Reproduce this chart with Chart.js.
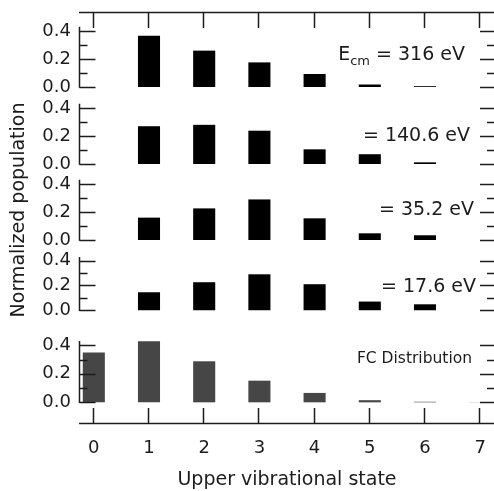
<!DOCTYPE html>
<html>
<head>
<meta charset="utf-8">
<script src="https://cdn.jsdelivr.net/npm/chart.js@4.4.1/dist/chart.umd.min.js"></script>
<style>
  html, body { margin: 0; padding: 0; background: #fff; }
  canvas { display: block; }
</style>
</head>
<body>
<canvas id="chart" width="494" height="491"></canvas>
<script>
// Upper vibrational states on the x axis
const states = [0, 1, 2, 3, 4, 5, 6, 7];
// Normalized population for each collision energy (null = no bar)
const pop316 = [null, 0.366, 0.26, 0.176, 0.093, 0.018, 0.006, null];
const pop140 = [null, 0.27, 0.28, 0.238, 0.105, 0.07, 0.012, null];
const pop35 = [null, 0.16, 0.226, 0.29, 0.155, 0.048, 0.034, null];
const pop17 = [null, 0.145, 0.226, 0.29, 0.21, 0.07, 0.048, null];
const popFC = [0.35, 0.428, 0.288, 0.152, 0.066, 0.015, 0.004, 0.001];
const panelNames = ["= 316 eV", "= 140.6 eV", "= 35.2 eV", "= 17.6 eV", "FC Distribution"];
const yLabelTicks = [0, 0.2, 0.4];
const yMinorTicks = [0.1, 0.3];

const FONT = "'DejaVu Sans', sans-serif";
const INK = "#1c1c1c";

// panel layout, top to bottom (axis range and share of the plot height)
const series = [pop316, pop140, pop35, pop17, popFC];
const panelIds = ["y1", "y2", "y3", "y4", "y5"];
const panelRange = [[-0.057, 0.536], [-0.057, 0.493], [-0.057, 0.486], [-0.119, 0.502], [-0.152, 0.5425]];
const panelWeight = [83, 77, 76, 77, 99];
const barColors = ["#000", "#000", "#000", "#000", "#464646"];
// where each panel label sits: value on the panel axis, distance from right edge
const labelSpots = [
    {value: 0.193, inset: 29, size: 19},
    {value: 0.164, inset: 24, size: 19},
    {value: 0.18, inset: 20, size: 19},
    {value: 0.148, inset: 18, size: 19},
    {value: 0.276, inset: 22, size: 15.5}
];

const datasets = series.map((vals, i) => ({
    data: states.map((s, j) => ({x: s, y: vals[j]})),
    yAxisID: panelIds[i],
    backgroundColor: barColors[i],
    borderWidth: 0,
    grouped: false,
    barPercentage: 0.4,
    categoryPercentage: 1.0
}));

// keep tick labels from pushing the plot area inwards
function noEdgePadding(s) {
    s.paddingTop = 0;
    s.paddingBottom = 0;
    s.paddingLeft = 0;
    s.paddingRight = 0;
}

const scales = {
    x: {
        type: "linear",
        position: "bottom",
        offset: false,
        min: -0.25,
        max: 7.25,
        grid: {display: false, drawTicks: false},
        border: {display: false},
        afterBuildTicks: s => { s.ticks = states.map(v => ({value: v})); },
        ticks: {font: {family: FONT, size: 18}, color: INK, padding: 14, autoSkip: false},
        title: {display: true, text: "Upper vibrational state", color: INK,
            font: {family: FONT, size: 19}, padding: {top: 0, bottom: 0}},
        afterFit: s => { s.height = 67; noEdgePadding(s); }
    }
};
// defined bottom-up so the first panel ends up on top of the stack
for (let i = panelIds.length - 1; i >= 0; i--) {
    scales[panelIds[i]] = {
        type: "linear",
        position: "left",
        stack: "pop",
        stackWeight: panelWeight[i],
        min: panelRange[i][0],
        max: panelRange[i][1],
        grid: {display: false, drawTicks: false},
        border: {display: false},
        afterBuildTicks: s => { s.ticks = yLabelTicks.map(v => ({value: v})); },
        ticks: {font: {family: FONT, size: 18}, color: INK, padding: 9, autoSkip: false,
            callback: v => v.toFixed(1)},
        title: {display: i === 2, text: "Normalized population", color: INK,
            font: {family: FONT, size: 19}, padding: {top: 8, bottom: 0}},
        afterFit: s => { s.width = 80; noEdgePadding(s); }
    };
}

// axis lines and inward ticks, plus the panel labels
const framePlugin = {
    id: "frame",
    afterDatasetsDraw(chart) {
        const {ctx, chartArea: a, scales: sc} = chart;
        ctx.save();
        ctx.strokeStyle = INK;
        ctx.lineWidth = 1.5;
        ctx.beginPath();
        ctx.moveTo(a.left - 1, a.top + 0.5);
        ctx.lineTo(a.right, a.top + 0.5);
        ctx.moveTo(a.left - 1, a.bottom - 0.5);
        ctx.lineTo(a.right, a.bottom - 0.5);
        states.forEach(s => {
            const px = Math.round(sc.x.getPixelForValue(s)) - 0.5;
            ctx.moveTo(px, a.top);
            ctx.lineTo(px, a.top + 16);
            ctx.moveTo(px, a.bottom);
            ctx.lineTo(px, a.bottom - 16);
        });
        const l = a.left - 0.5;
        panelIds.forEach(id => {
            const y = sc[id];
            ctx.moveTo(l, y.getPixelForValue(0) + 0.75);
            ctx.lineTo(l, y.getPixelForValue(0.43));
            yLabelTicks.forEach(v => {
                const py = Math.round(y.getPixelForValue(v)) + 0.5;
                ctx.moveTo(l, py); ctx.lineTo(l + 16, py);
                ctx.moveTo(a.right, py); ctx.lineTo(a.right - 14, py);
            });
            yMinorTicks.forEach(v => {
                const py = Math.round(y.getPixelForValue(v)) + 0.5;
                ctx.moveTo(l, py); ctx.lineTo(l + 8, py);
                ctx.moveTo(a.right, py); ctx.lineTo(a.right - 7, py);
            });
        });
        ctx.stroke();

        ctx.fillStyle = INK;
        ctx.textBaseline = "alphabetic";
        panelNames.forEach((name, i) => {
            const spot = labelSpots[i];
            const yb = sc[panelIds[i]].getPixelForValue(spot.value);
            const xr = a.right - spot.inset;
            ctx.font = spot.size + "px " + FONT;
            ctx.textAlign = "right";
            ctx.fillText(name, xr, yb);
            if (i === 0) {
                // E with subscript "cm" in front of the first label
                const w = ctx.measureText(name + " ").width;
                ctx.font = "13px " + FONT;
                const wSub = ctx.measureText("cm").width;
                ctx.fillText("cm", xr - w, yb + 4.5);
                ctx.font = spot.size + "px " + FONT;
                ctx.fillText("E", xr - w - wSub, yb);
            }
        });
        ctx.restore();
    }
};

new Chart(document.getElementById("chart"), {
    type: "bar",
    data: {datasets: datasets},
    options: {
        responsive: false,
        animation: false,
        layout: {padding: {top: 12, right: 0, bottom: 0, left: 0}},
        plugins: {legend: {display: false}, tooltip: {enabled: false}},
        scales: scales
    },
    plugins: [framePlugin]
});
</script>
</body>
</html>
